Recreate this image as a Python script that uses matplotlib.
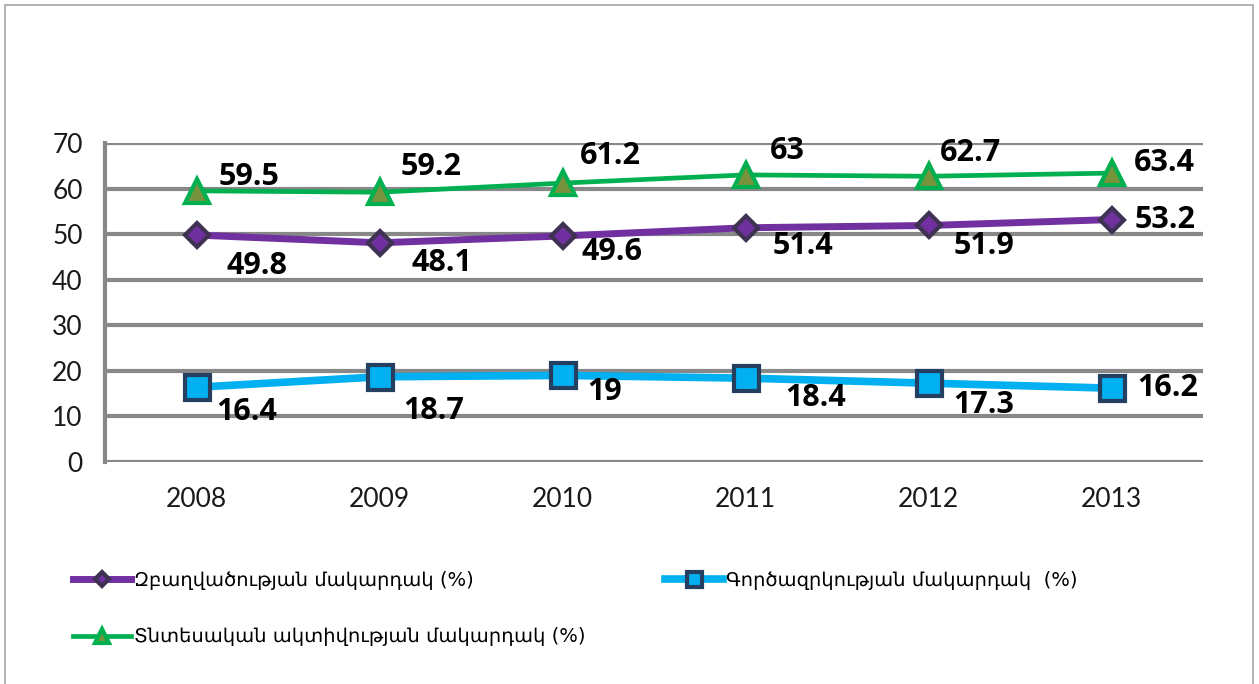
import matplotlib
matplotlib.use("Agg")
import matplotlib.pyplot as plt
from matplotlib.patches import Rectangle

years = ["2008", "2009", "2010", "2011", "2012", "2013"]
employment = [49.8, 48.1, 49.6, 51.4, 51.9, 53.2]
unemployment = [16.4, 18.7, 19, 18.4, 17.3, 16.2]
activity = [59.5, 59.2, 61.2, 63, 62.7, 63.4]

label_emp = "Զբաղվածության մակարդակ (%)"
label_unemp = "Գործազրկության մակարդակ  (%)"
label_act = "Տնտեսական ակտիվության մակարդակ (%)"

# label offsets in pixels (dx, dy) relative to each point
off_emp = [(60, -31), (62, -20), (50, -16), (57, -18), (55, -21), (54, 0)]
off_unemp = [(50, -25), (54, -34), (42, -17), (70, -20), (55, -22), (56, 0)]
off_act = [(53, 14), (52, 25), (48, 27), (42, 24), (42, 23), (53, 10)]

fig = plt.figure(figsize=(12.59, 6.84), dpi=100)
ax = fig.add_axes([105 / 1259, 1 - 462 / 684, 1098 / 1259, 319 / 684])

x = [i + 0.5 for i in range(len(years))]

ax.plot(x, employment, color="#7030A0", lw=5, marker="D", ms=12,
        mfc="#7030A0", mec="#3F3151", mew=3, label=label_emp, zorder=5)
ax.plot(x, unemployment, color="#00B0F0", lw=5.5, marker="s", ms=18,
        mfc="#00B0F0", mec="#243F60", mew=3, label=label_unemp, zorder=5)
ax.plot(x, activity, color="#00B050", lw=3.4, marker="^", ms=17,
        mfc="#77933C", mec="#00B050", mew=3, label=label_act, zorder=5)

def lab(v):
    return ("%g" % v)

for vals, offs in [(employment, off_emp), (unemployment, off_unemp), (activity, off_act)]:
    for xi, v, (dx, dy) in zip(x, vals, offs):
        ax.annotate(lab(v), (xi, v), xytext=(dx, dy), textcoords="offset pixels",
                    ha="center", va="center", fontsize=22, fontweight="bold",
                    color="black", family="Open Sans", zorder=6)

ax.set_xlim(0, 6)
ax.set_ylim(0, 70)
ax.set_yticks(range(0, 71, 10))
ax.set_xticks(x)
ax.set_xticklabels(years)
for sp in ["top", "right", "bottom"]:
    ax.spines[sp].set_visible(False)
ax.spines["left"].set_color("#888888")
ax.spines["left"].set_linewidth(3)
ax.yaxis.grid(True, color="#888888", lw=3)
ax.set_axisbelow(True)
ax.tick_params(axis="both", length=0, labelsize=19)
ax.tick_params(axis="y", pad=16)
ax.tick_params(axis="x", pad=18)
for t in ax.get_xticklabels() + ax.get_yticklabels():
    t.set_family("Lato")
    t.set_color("#1a1a1a")

h, l = ax.get_legend_handles_labels()
order = [0, 2, 1]
leg = fig.legend([h[i] for i in order], [l[i] for i in order], ncol=2,
                 loc="upper left", bbox_to_anchor=(55 / 1259, 1 - 553 / 684),
                 frameon=False, handlelength=3.0, handletextpad=0.15,
                 columnspacing=4.1, labelspacing=1.95,
                 prop={"family": ["DejaVu Sans"], "size": 14}, markerscale=0.6)

fig.add_artist(Rectangle((5 / 1259, -0.1), 1248 / 1259, 1.1 - 5 / 684,
                         transform=fig.transFigure, fill=False,
                         edgecolor="#a6a6a6", lw=1.2))

fig.savefig("out.png", dpi=100)
